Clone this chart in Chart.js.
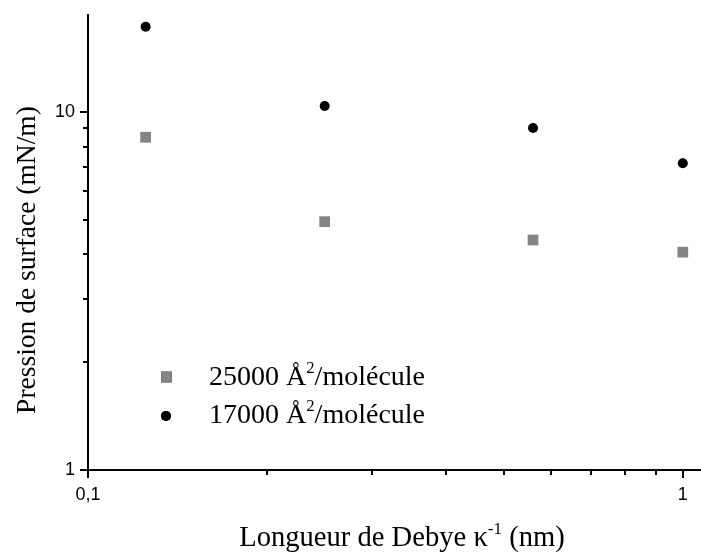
<!DOCTYPE html>
<html>
<head>
<meta charset="utf-8">
<script src="https://cdn.jsdelivr.net/npm/chart.js@4/dist/chart.umd.min.js"></script>
<style>
  body { margin: 0; background: #fff; }
  canvas { display: block; }
</style>
</head>
<body>
<canvas id="debyeChart" width="701" height="554"></canvas>
<script>
// pression de surface vs longueur de Debye (log-log)

const debye = [0.125, 0.25, 0.56, 1];
const pression25000 = [8.5, 4.94, 4.39, 4.06];
const pression17000 = [17.3, 10.39, 9.02, 7.19];

const xMajorTicks = [0.1, 1];
const xMajorLabels = ['0,1', '1'];
const xMinorTicks = [0.2, 0.3, 0.4, 0.5, 0.6, 0.7, 0.8, 0.9];
const yMajorTicks = [1, 10];
const yMajorLabels = ['1', '10'];
const yMinorTicks = [2, 3, 4, 5, 6, 7, 8, 9];

const seriesNames = ['25000 Å', '17000 Å'];

const serif = '"Liberation Serif", "Times New Roman", serif';
const sans = '"Liberation Sans", Arial, sans-serif';

const toPoints = (ys) => debye.map((x, i) => ({ x: x, y: ys[i] }));

// text with one superscript part
const drawRich = (ctx, parts, size, x, y, align) => {
    const widths = parts.map(p => {
        ctx.font = (p.sup ? size * 0.6 : size) + 'px ' + serif;
        return ctx.measureText(p.t).width;
    });
    const total = widths.reduce((a, b) => a + b, 0);
    let cx = align === 'center' ? x - total / 2 : x;
    ctx.textAlign = 'left';
    ctx.textBaseline = 'alphabetic';
    parts.forEach((p, i) => {
        ctx.font = (p.sup ? size * 0.6 : size) + 'px ' + serif;
        ctx.fillText(p.t, cx, p.sup ? y - size * 0.42 : y);
        cx += widths[i];
    });
};

const extrasPlugin = {
    id: 'extras',
    afterDraw(chart) {
        const ctx = chart.ctx;
        const xs = chart.scales.x;
        const ys = chart.scales.y;
        const area = chart.chartArea;
        ctx.save();
        ctx.strokeStyle = '#000';
        ctx.lineWidth = 2;
        ctx.beginPath();
        xMinorTicks.forEach(v => {
            const px = Math.round(xs.getPixelForValue(v));
            ctx.moveTo(px, area.bottom);
            ctx.lineTo(px, area.bottom + 5);
        });
        yMinorTicks.forEach(v => {
            const py = Math.round(ys.getPixelForValue(v));
            ctx.moveTo(area.left, py);
            ctx.lineTo(area.left - 5, py);
        });
        ctx.stroke();

        ctx.fillStyle = '#000';
        // axis titles
        drawRich(ctx, [{ t: 'Longueur de Debye κ' }, { t: '-1', sup: true }, { t: ' (nm)' }],
            28.6, (area.left + area.right) / 2 + 7.5, 546, 'center');
        ctx.save();
        ctx.translate(35, 260);
        ctx.rotate(-Math.PI / 2);
        drawRich(ctx, [{ t: 'Pression de surface (mN/m)' }], 27.5, 0, 0, 'center');
        ctx.restore();

        // legend
        const rows = [[166.5, 377, 385], [166, 416, 423]];
        chart.data.datasets.forEach((ds, i) => {
            Chart.helpers.drawPoint(ctx, {
                pointStyle: ds.pointStyle,
                radius: ds.pointRadius,
                borderWidth: 0,
                rotation: 0
            }, rows[i][0], rows[i][1]);
            ctx.fillStyle = ds.backgroundColor;
            ctx.fill();
            ctx.fillStyle = '#000';
            drawRich(ctx, [{ t: seriesNames[i] }, { t: '2', sup: true }, { t: '/molécule' }],
                28, 209, rows[i][2], 'left');
        });
        ctx.restore();
    }
};

const axisGrid = {
    drawOnChartArea: false,
    drawTicks: true,
    tickLength: 8,
    lineWidth: 2,
    tickWidth: 2,
    color: '#000',
    tickColor: '#000'
};

new Chart(document.getElementById('debyeChart'), {
    type: 'scatter',
    data: {
        datasets: [
            {
                label: seriesNames[0] + '²/molécule',
                data: toPoints(pression25000),
                pointStyle: 'rect',
                pointRadius: 7.6,
                backgroundColor: '#858585',
                borderWidth: 0
            },
            {
                label: seriesNames[1] + '²/molécule',
                data: toPoints(pression17000),
                pointStyle: 'circle',
                pointRadius: 5,
                backgroundColor: '#000',
                borderWidth: 0
            }
        ]
    },
    options: {
        responsive: false,
        animation: false,
        devicePixelRatio: 1,
        layout: { autoPadding: false, padding: { top: 15, left: 0, right: 0, bottom: 0 } },
        plugins: {
            legend: { display: false },
            tooltip: { enabled: false }
        },
        scales: {
            x: {
                type: 'logarithmic',
                min: 0.1,
                max: 1.073,
                afterBuildTicks: (s) => { s.ticks = xMajorTicks.map(v => ({ value: v })); },
                afterFit: (s) => { s.height = 84; s.paddingLeft = 0; s.paddingRight = 0; },
                grid: axisGrid,
                border: { display: true, color: '#000', width: 2 },
                ticks: {
                    autoSkip: false,
                    maxRotation: 0,
                    padding: 6,
                    color: '#000',
                    font: { family: sans, size: 18 },
                    callback: (v, i) => xMajorLabels[i]
                }
            },
            y: {
                type: 'logarithmic',
                min: 1,
                max: 18.66,
                afterBuildTicks: (s) => { s.ticks = yMajorTicks.map(v => ({ value: v })); },
                afterFit: (s) => { s.width = 88; s.paddingTop = 0; s.paddingBottom = 0; },
                grid: axisGrid,
                border: { display: true, color: '#000', width: 2 },
                ticks: {
                    autoSkip: false,
                    padding: 5,
                    color: '#000',
                    font: { family: sans, size: 18 },
                    callback: (v, i) => yMajorLabels[i]
                }
            }
        }
    },
    plugins: [extrasPlugin]
});
</script>
</body>
</html>
